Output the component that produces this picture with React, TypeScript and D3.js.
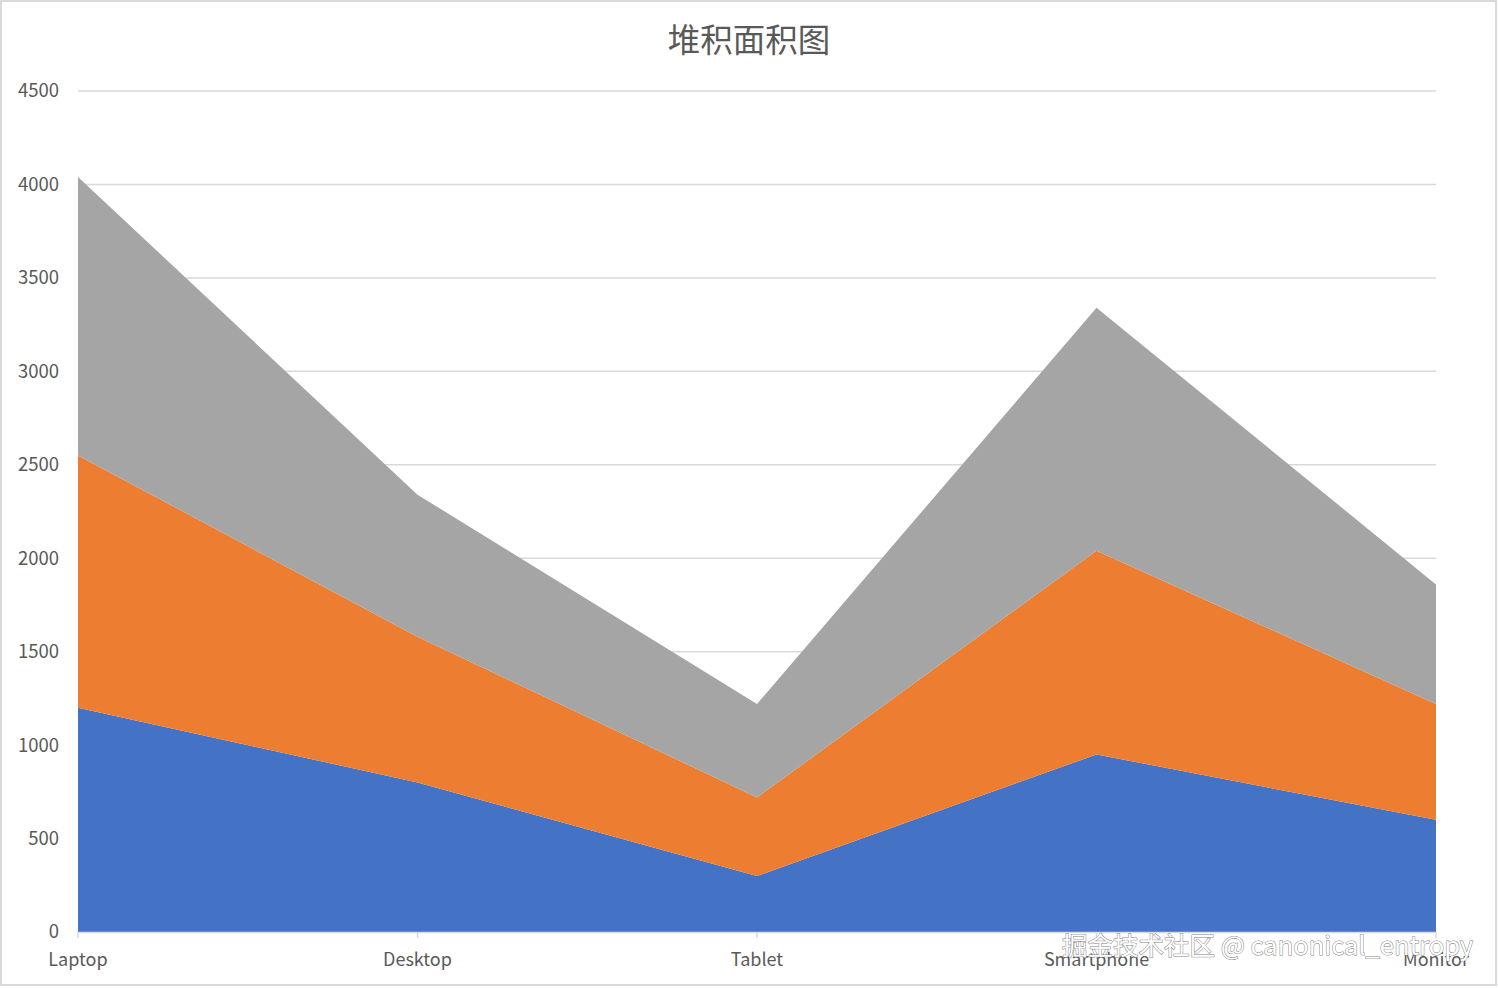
import * as React from 'react';
import * as d3 from 'd3';

const categories = ['Laptop', 'Desktop', 'Tablet', 'Smartphone', 'Monitor'];
const seriesNames = ['s1', 's2', 's3'];
const series1 = [1200, 800, 300, 950, 600];
const series2 = [1350, 780, 420, 1090, 620];
const series3 = [1490, 760, 500, 1300, 640];
const yTicks = [0, 500, 1000, 1500, 2000, 2500, 3000, 3500, 4000, 4500];
const colors = ['#4472C4', '#ED7D31', '#A5A5A5'];

const W = 1498;
const H = 988;
const margin = { top: 91, right: 62, bottom: 56, left: 78 };

export default function App() {
  const svgRef = React.useRef<SVGSVGElement | null>(null);

  React.useEffect(() => {
    document.body.style.margin = '0';
    if (!svgRef.current) return;
    const svg = d3.select(svgRef.current);
    svg.selectAll('*').remove();

    const rows = categories.map((c, i) => ({
      cat: c,
      s1: series1[i],
      s2: series2[i],
      s3: series3[i],
    }));

    const x = d3
      .scalePoint()
      .domain(categories)
      .range([margin.left, W - margin.right]);
    const y = d3
      .scaleLinear()
      .domain([0, 4500])
      .range([H - margin.bottom, margin.top]);

    // frame
    svg
      .append('rect')
      .attr('x', 1)
      .attr('y', 1)
      .attr('width', W - 3)
      .attr('height', H - 4)
      .attr('fill', '#fff')
      .attr('stroke', '#d9d9d9')
      .attr('stroke-width', 2);

    // gridlines
    svg
      .append('g')
      .selectAll('line')
      .data(yTicks.slice(1))
      .enter()
      .append('line')
      .attr('x1', margin.left)
      .attr('x2', W - margin.right)
      .attr('y1', (d) => y(d))
      .attr('y2', (d) => y(d))
      .attr('stroke', '#d9d9d9')
      .attr('stroke-width', 1.5);

    const stacked = d3.stack<any>().keys(seriesNames)(rows);
    const area = d3
      .area<any>()
      .x((d) => x(d.data.cat) as number)
      .y0((d) => y(d[0]))
      .y1((d) => y(d[1]));

    svg
      .append('g')
      .selectAll('path')
      .data(stacked)
      .enter()
      .append('path')
      .attr('d', (d) => area(d as any) as string)
      .attr('fill', (_, i) => colors[i]);

    // x axis line
    svg
      .append('line')
      .attr('x1', margin.left)
      .attr('x2', W - margin.right)
      .attr('y1', y(0) + 0.5)
      .attr('y2', y(0) + 0.5)
      .attr('stroke', '#d9d9d9')
      .attr('stroke-width', 1.5);

    svg
      .append('g')
      .selectAll('line')
      .data(categories)
      .enter()
      .append('line')
      .attr('x1', (d) => x(d) as number)
      .attr('x2', (d) => x(d) as number)
      .attr('y1', y(0))
      .attr('y2', y(0) + 6)
      .attr('stroke', '#d9d9d9')
      .attr('stroke-width', 1.5);

    const font = '"Noto Sans CJK SC", "Noto Sans", sans-serif';

    svg
      .append('g')
      .selectAll('text')
      .data(yTicks)
      .enter()
      .append('text')
      .attr('x', 59)
      .attr('y', (d) => y(d))
      .attr('dy', '0.35em')
      .attr('text-anchor', 'end')
      .attr('font-family', font)
      .attr('font-size', 18.5)
      .attr('fill', '#595959')
      .text((d) => d);

    svg
      .append('g')
      .selectAll('text')
      .data(categories)
      .enter()
      .append('text')
      .attr('x', (d) => x(d) as number)
      .attr('y', 966)
      .attr('text-anchor', 'middle')
      .attr('font-family', font)
      .attr('font-size', 18)
      .attr('fill', '#595959')
      .text((d) => d);

    svg
      .append('text')
      .attr('x', 749)
      .attr('y', 52)
      .attr('text-anchor', 'middle')
      .attr('font-family', font)
      .attr('font-size', 32.5)
      .attr('fill', '#595959')
      .text('堆积面积图');

    // watermark
    svg
      .append('text')
      .attr('x', 1062)
      .attr('y', 955)
      .attr('font-family', font)
      .attr('font-size', 25.5)
      .attr('fill', '#fff')
      .attr('stroke', '#7f7f7f')
      .attr('stroke-width', 1)
      .attr('paint-order', 'stroke')
      .text('掘金技术社区 @ canonical_entropy');
  }, []);

  return (
    <div style={{ position: 'absolute', left: 0, top: 0 }}>
      <svg width={W} height={H} ref={svgRef} style={{ display: 'block' }} />
    </div>
  );
}
